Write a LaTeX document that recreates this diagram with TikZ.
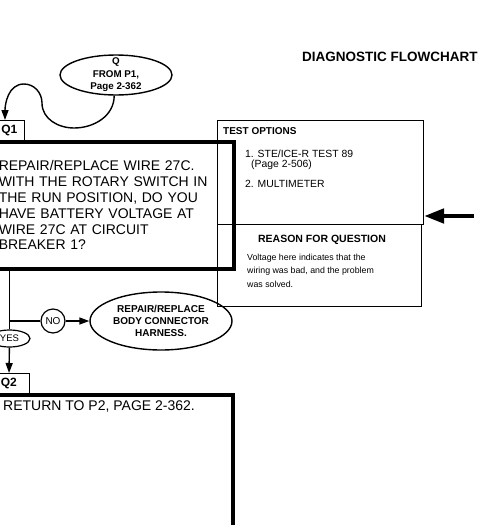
\documentclass[tikz,border=0pt]{standalone}
\usepackage{fontspec}
\setmainfont{Liberation Sans}
\usetikzlibrary{shapes.geometric,arrows.meta}

\begin{document}
\begin{tikzpicture}[x=1pt,y=-1pt,
    every node/.style={inner sep=0pt},
    bigbox/.style={draw,line width=3.5pt,anchor=north west},
    tag/.style={draw,line width=1.2pt,anchor=north east,font=\bfseries\fontsize{12}{12}\selectfont},
    panel/.style={draw,line width=1pt,anchor=north west},
    oval/.style={draw,ellipse,line width=1.4pt,align=center,inner ysep=-6pt},
    link/.style={line width=1.4pt},
    tip/.style={-{Triangle[length=10pt,width=7pt]}}]
    \useasboundingbox (0,0) rectangle (482,525);
    \clip (0,0) rectangle (482,525);
    \node[anchor=west,font=\bfseries\fontsize{13.5}{14}\selectfont] (title) at (302,57) {DIAGNOSTIC FLOWCHART};
    % entry point
    \node[oval,minimum width=112,minimum height=40,font=\bfseries\fontsize{9.8}{12.5}\selectfont] (from) at (116,75) {Q\\FROM P1,\\Page 2-362};
    \node[tag,minimum width=30,minimum height=20] (q1tag) at (25,120) {Q1};
    \node[bigbox,minimum width=244,minimum height=127,text width=226,inner xsep=9pt,align=left,font=\fontsize{14}{15.8}\selectfont] (q1box) at (-12,140) {REPAIR/REPLACE WIRE 27C.\\WITH THE ROTARY SWITCH IN\\THE RUN POSITION, DO YOU\\HAVE BATTERY VOLTAGE AT\\WIRE 27C AT CIRCUIT\\BREAKER 1?};
    \coordinate (loopdip) at (74,128);
    \coordinate (loopside) at (42,103);
    \coordinate (looptop) at (24,84);
    \coordinate (q1entry) at (5,120);
    \draw[link,tip] (from.265) to[out=-90,in=0] (loopdip) to[out=180,in=-90] (loopside) to[out=90,in=0] (looptop) to[out=180,in=90] (q1entry);
    % side panels
    \node[panel,minimum width=206,minimum height=104] (opts) at (217,120) {};
    \node[panel,minimum width=204,minimum height=82] (why) at (217,224) {};
    \node[anchor=west,font=\bfseries\fontsize{10}{12}\selectfont] (optshead) at (223,131) {TEST OPTIONS};
    \node[anchor=base west,font=\fontsize{10.4}{12}\selectfont] (optone) at (245,157) {1. STE/ICE-R TEST 89};
    \node[anchor=base west,font=\fontsize{10.4}{12}\selectfont] (optpage) at (251,167.5) {(Page 2-506)};
    \node[anchor=base west,font=\fontsize{10.4}{12}\selectfont] (opttwo) at (245,187) {2. MULTIMETER};
    \node[anchor=base,font=\bfseries\fontsize{10.5}{12}\selectfont] (whyhead) at (322,242) {REASON FOR QUESTION};
    \node[anchor=north west,align=left,font=\fontsize{8.8}{13.5}\selectfont] (whytext) at (247,253.5) {Voltage here indicates that the\\wiring was bad, and the problem\\was solved.};
    \coordinate (pointer) at (474,216);
    \draw[line width=4.5pt,-{Triangle[length=20pt,width=14pt]}] (pointer) -- (pointer -| opts.east);
    % answers
    \node[draw,circle,line width=1.2pt,minimum size=24,font=\fontsize{10}{12}\selectfont] (no) at (53,321) {NO};
    \node[oval,minimum width=142,minimum height=58,font=\bfseries\fontsize{10}{12}\selectfont] (fix) at (161,321) {REPAIR/REPLACE\\BODY CONNECTOR\\HARNESS.};
    \node[draw,ellipse,line width=1.2pt,minimum width=41,minimum height=17,font=\fontsize{9.5}{12}\selectfont] (yes) at (9.5,338.5) {YES};
    \node[tag,minimum width=41,minimum height=20] (q2tag) at (30,373) {Q2};
    \node[bigbox,minimum width=243,minimum height=180] (q2box) at (-12,393) {};
    \node[anchor=base west,font=\fontsize{14}{16}\selectfont] (ret) at (3,410) {RETURN TO P2, PAGE 2-362.};
    \draw[link] (yes.north |- q1box.south) -- (yes.north);
    \draw[link] (yes.north |- no) -- (no);
    \draw[link,tip] (no) -- (fix);
    \draw[link,tip] (yes) -- (q2tag);
\end{tikzpicture}
\end{document}
